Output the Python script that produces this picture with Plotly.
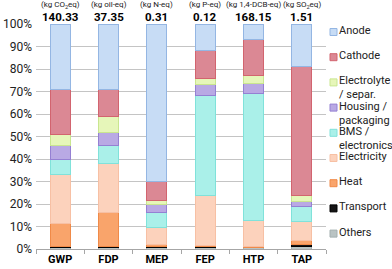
import plotly.graph_objects as go

categories = ["GWP", "FDP", "MEP", "FEP", "HTP", "TAP"]
units = ["(kg CO<sub>2</sub>eq)", "(kg oil-eq)", "(kg N-eq)", "(kg P-eq)", "(kg 1,4-DCB-eq)", "(kg SO<sub>2</sub>eq)"]
totals = ["140.33", "37.35", "0.31", "0.12", "168.15", "1.51"]

# stacked shares (%) bottom -> top
others      = [0.5, 0.5, 0.5, 0.7, 0.5, 1.0]
transport   = [0.5, 0.7, 0.5, 0.3, 0.3, 0.8]
heat        = [10.4, 14.9, 0.8, 0.5, 0.5, 2.2]
electricity = [21.5, 22.0, 7.8, 22.1, 11.3, 8.1]
bms         = [7.0, 7.7, 6.5, 44.5, 56.4, 7.0]
housing     = [6.3, 5.9, 3.5, 4.8, 4.6, 1.9]
electrolyte = [4.5, 7.1, 1.9, 2.7, 3.7, 3.0]
cathode     = [20.0, 12.2, 8.4, 12.5, 15.9, 57.0]
anode       = [29.3, 29.0, 70.1, 11.9, 6.8, 19.0]

series = [
    ("Others", others, "#b9c3c3", "#a3afaf"),
    ("Transport", transport, "#151515", "#000000"),
    ("Heat", heat, "#f9a46b", "#f08a48"),
    ("Electricity", electricity, "#fcd2bc", "#f7c0a4"),
    ("BMS /<br>electronics", bms, "#aaf0e9", "#80e2da"),
    ("Housing /<br>packaging", housing, "#b9a9e4", "#9580d3"),
    ("Electrolyte<br>/ separ.", electrolyte, "#e6f6b9", "#c9e68f"),
    ("Cathode", cathode, "#db8894", "#d2646f"),
    ("Anode", anode, "#c7dcf5", "#94b6e3"),
]

FONT = "Roboto"
fig = go.Figure()
for name, vals, fill, line in series:
    fig.add_trace(go.Bar(x=categories, y=vals, name=name,
                         marker=dict(color=fill, line=dict(color=line, width=1)),
                         showlegend=False))

# plot area in pixels
W, H = 392, 269
L, R, T, B = 36, 66, 24, 20
pw, ph = W - L - R, H - T - B

ann = []
for c, u, t in zip(categories, units, totals):
    ann.append(dict(x=c, xref="x", y=1 + 19 / ph, yref="paper", text=u, showarrow=False,
                    font=dict(family=FONT, size=8, color="#222"), yanchor="middle"))
    ann.append(dict(x=c, xref="x", y=1 + 7 / ph, yref="paper", text="<b>" + t + "</b>", showarrow=False,
                    font=dict(family=FONT, size=11.5, color="#000"), yanchor="middle"))

shapes = []
legend_items = list(reversed(series))
for i, (name, vals, fill, line) in enumerate(legend_items):
    cy = 32 + 25.2 * i  # pixel center of marker
    yc = 1 - (cy - T) / ph
    x0 = (330 - L) / pw
    shapes.append(dict(type="rect", xref="paper", yref="paper",
                       x0=x0, x1=x0 + 7 / pw, y0=yc - 3.5 / ph, y1=yc + 3.5 / ph,
                       fillcolor=fill, line=dict(color=line, width=1)))
    ann.append(dict(xref="paper", yref="paper", x=(339 - L) / pw, y=yc + 8 / ph,
                    text=name, showarrow=False, xanchor="left", yanchor="top", align="left",
                    borderpad=0, borderwidth=0, font=dict(family=FONT, size=11, color="#222")))

fig.update_layout(
    barmode="stack", bargap=0.59,
    width=W, height=H,
    margin=dict(l=L, r=R, t=T, b=B, pad=0),
    plot_bgcolor="white", paper_bgcolor="white",
    annotations=ann, shapes=shapes, showlegend=False,
    xaxis=dict(showline=True, linecolor="#a6a6a6", linewidth=1, ticks="outside",
               tickson="boundaries", ticklen=4, tickcolor="#a6a6a6", automargin=False,
               range=[-0.5, 5.5], ticklabelstandoff=0,
               tickfont=dict(family=FONT, size=11, color="#000"),
               tickvals=categories, ticktext=["<b>" + c + "</b>" for c in categories]),
    yaxis=dict(range=[0, 100], tickvals=[0, 10, 20, 30, 40, 50, 60, 70, 80, 90, 100],
               ticktext=[f"{v}%" for v in range(0, 101, 10)], automargin=False,
               showgrid=True, gridcolor="#c4c4c4", gridwidth=1, zeroline=False,
               tickfont=dict(family=FONT, size=12, color="#222"), ticks="", ticklabelstandoff=3),
)
fig.write_html("out.html", config={"displayModeBar": False},
               post_script="document.body.style.margin='0';")
